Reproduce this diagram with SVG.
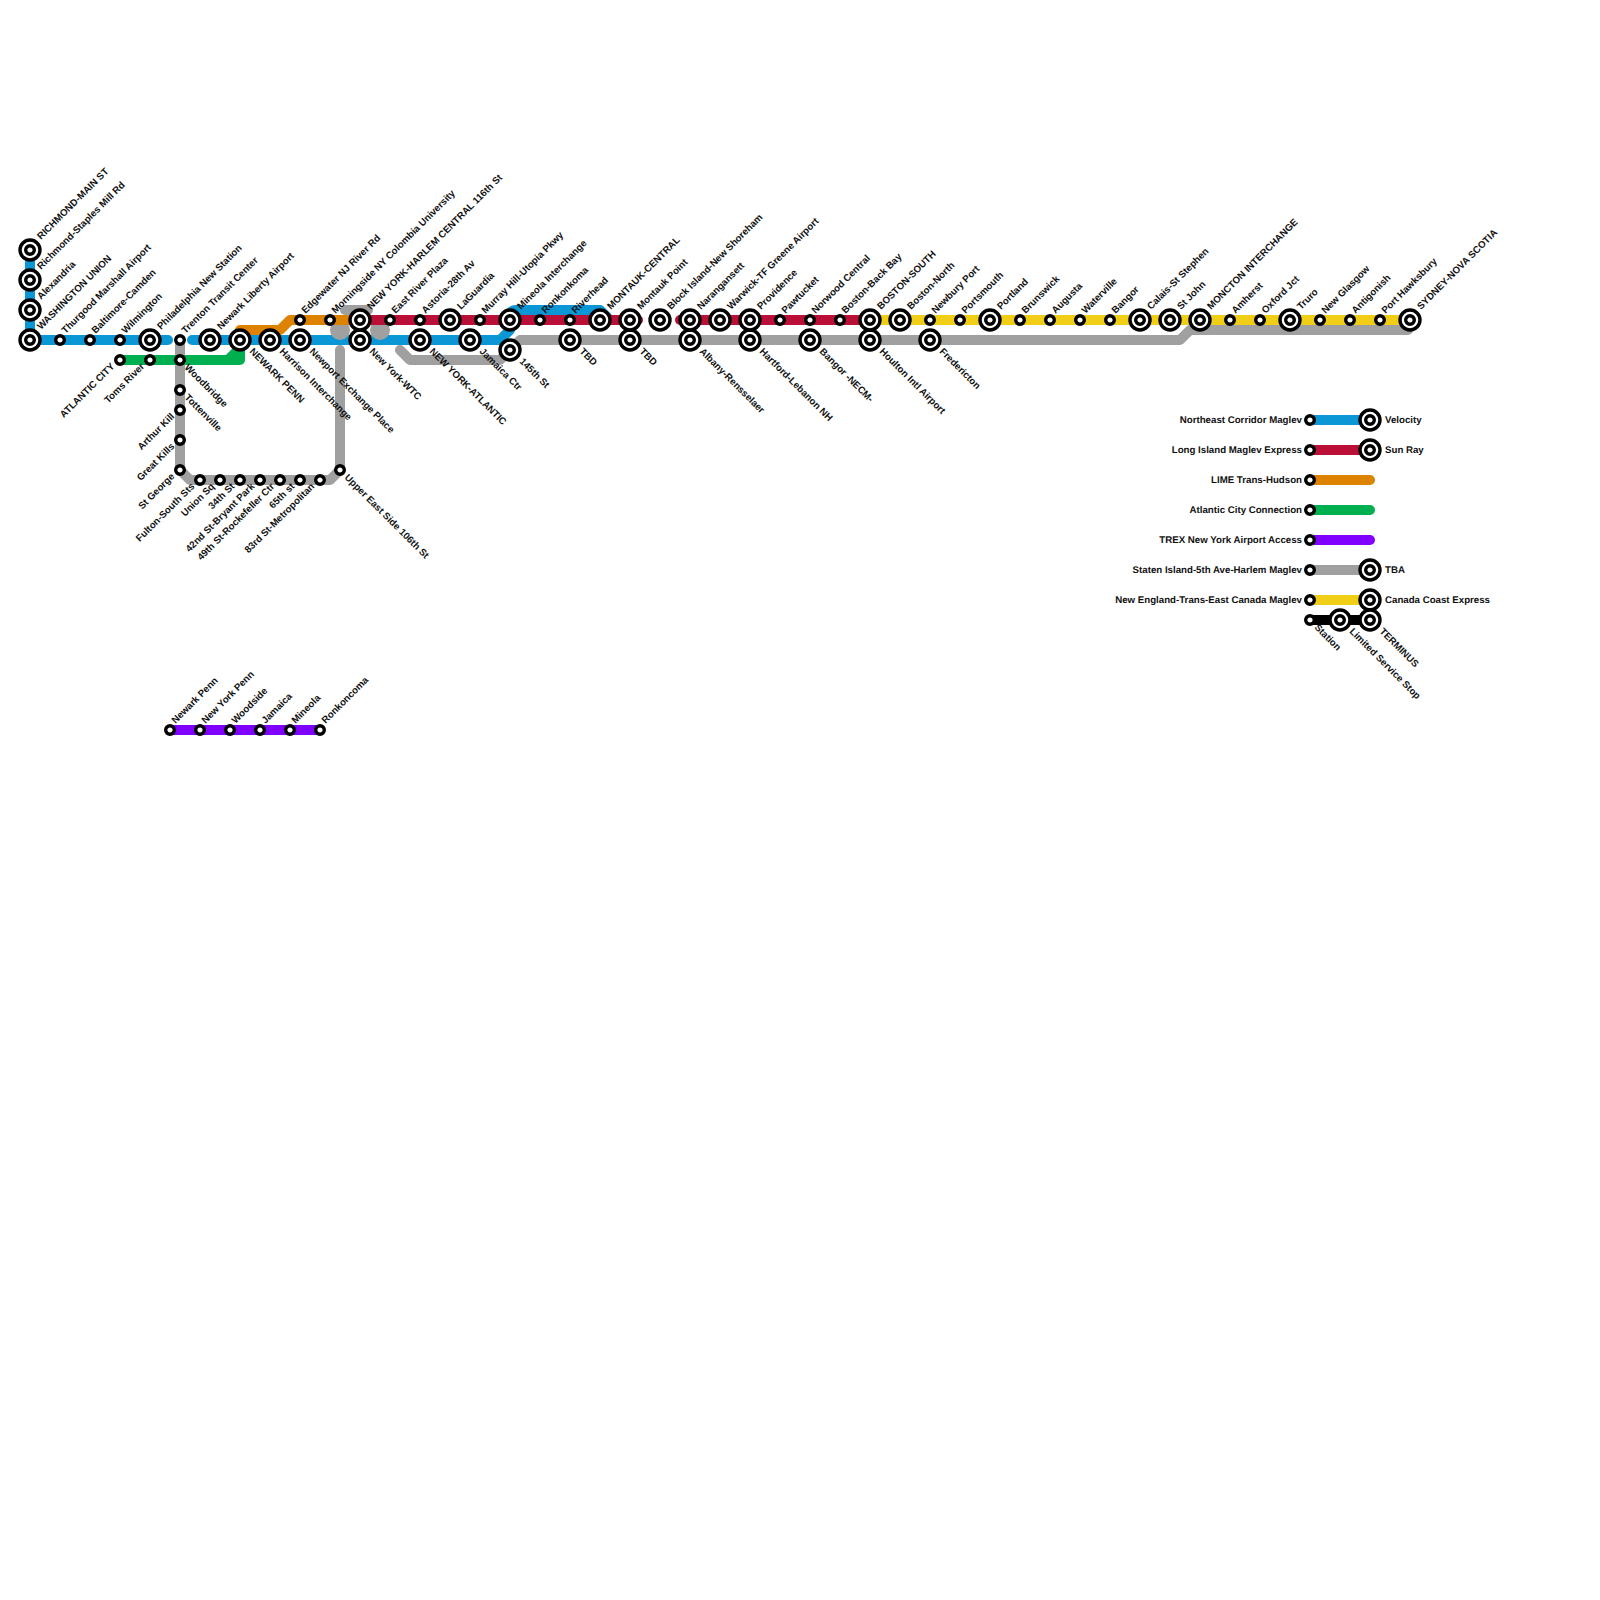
<svg xmlns="http://www.w3.org/2000/svg" width="1600" height="1600" viewBox="0 0 1600 1600">
<style>
text{font-family:"Liberation Sans",Arial,sans-serif;font-size:9.7px;font-weight:bold;fill:#111;text-rendering:geometricPrecision}
.e{text-anchor:end}
.l{fill:none;stroke-width:10;stroke-linecap:round;stroke-linejoin:round}
.blue{stroke:#0b96d6}.red{stroke:#ba1037}.orange{stroke:#dd8300}.green{stroke:#00b050}.purple{stroke:#7f00ff}.gray{stroke:#a0a0a0}.yellow{stroke:#f0ce15}.black{stroke:#000}
.a{fill:#fff;stroke:#000;stroke-width:3.4}
</style>
<defs>
<g id="big"><circle class="a" r="10"/><circle class="a" r="4.3"/></g>
<g id="sm"><circle class="a" r="4.3"/></g>
</defs>
<rect width="1600" height="1600" fill="#fff"/>
<g id="connectors">
<path class="l blue" d="M30,250V340H168M192,340H500L510,330V316Q510,310 516,310H600L610,320"/>
<path class="l gray" d="M180,340V470L190,480H330L340,470V350"/>
<path class="l gray" d="M400,350L410,360H500L520,340H1180L1190,330H1408"/>
<path class="l gray" d="M345,310H368"/>
<circle cx="340" cy="330" r="10" fill="#a0a0a0"/>
<circle cx="380" cy="330" r="10" fill="#a0a0a0"/>
<path class="l orange" d="M240,330H280L290,320H360"/>
<path class="l green" d="M120,360H240V340M228,360L240,348"/>
<path class="l red" d="M360,320H638M680,320H870"/>
<path class="l yellow" d="M870,320H1410"/>
<path class="l purple" d="M170,730H320"/>
<path class="l blue" d="M1310,420H1370"/>
<path class="l red" d="M1310,450H1370"/>
<path class="l orange" d="M1310,480H1370"/>
<path class="l green" d="M1310,510H1370"/>
<path class="l purple" d="M1310,540H1370"/>
<path class="l gray" d="M1310,570H1370"/>
<path class="l yellow" d="M1310,600H1370"/>
<path class="l black" d="M1310,620H1370"/>
</g>
<g id="n1"><use href="#big" x="30" y="250"/><text transform="translate(41 240) rotate(-45)">RICHMOND-MAIN ST</text></g>
<g id="n2"><use href="#big" x="30" y="280"/><text transform="translate(41 270) rotate(-45)">Richmond-Staples Mill Rd</text></g>
<g id="n3"><use href="#big" x="30" y="310"/><text transform="translate(41 300) rotate(-45)">Alexandria</text></g>
<g id="n4"><use href="#big" x="30" y="340"/><text transform="translate(41 330) rotate(-45)">WASHINGTON UNION</text></g>
<g id="n5"><use href="#sm" x="60" y="340"/><text transform="translate(65.5 334) rotate(-45)">Thurgood Marshall Airport</text></g>
<g id="n6"><use href="#sm" x="90" y="340"/><text transform="translate(95.5 334) rotate(-45)">Baltimore-Camden</text></g>
<g id="n7"><use href="#sm" x="120" y="340"/><text transform="translate(125.5 334) rotate(-45)">Wilmington</text></g>
<g id="n8"><use href="#big" x="150" y="340"/><text transform="translate(161 330) rotate(-45)">Philadelphia New Station</text></g>
<g id="n9"><use href="#sm" x="180" y="340"/><text transform="translate(185.5 334) rotate(-45)">Trenton Transit Center</text></g>
<g id="n10"><use href="#big" x="210" y="340"/><text transform="translate(221 330) rotate(-45)">Newark Liberty Airport</text></g>
<g id="n11"><use href="#big" x="240" y="340"/><text transform="translate(249 352) rotate(45)">NEWARK PENN</text></g>
<g id="n12"><use href="#big" x="270" y="340"/><text transform="translate(279 352) rotate(45)">Harrison Interchange</text></g>
<g id="n13"><use href="#big" x="300" y="340"/><text transform="translate(309 352) rotate(45)">Newport Exchange Place</text></g>
<g id="n14"><use href="#big" x="360" y="340"/><text transform="translate(369 352) rotate(45)">New York-WTC</text></g>
<g id="n15"><use href="#big" x="420" y="340"/><text transform="translate(429 352) rotate(45)">NEW YORK-ATLANTIC</text></g>
<g id="n16"><use href="#big" x="470" y="340"/><text transform="translate(479 352) rotate(45)">Jamaica Ctr</text></g>
<g id="n17"><use href="#big" x="510" y="350"/><text transform="translate(519 362) rotate(45)">145th St</text></g>
<g id="n18"><use href="#big" x="570" y="340"/><text transform="translate(579 352) rotate(45)">TBD</text></g>
<g id="n19"><use href="#big" x="630" y="340"/><text transform="translate(639 352) rotate(45)">TBD</text></g>
<g id="n20"><use href="#big" x="690" y="340"/><text transform="translate(699 352) rotate(45)">Albany-Rensselaer</text></g>
<g id="n21"><use href="#big" x="750" y="340"/><text transform="translate(759 352) rotate(45)">Hartford-Lebanon NH</text></g>
<g id="n22"><use href="#big" x="810" y="340"/><text transform="translate(819 352) rotate(45)">Bangor -NECM-</text></g>
<g id="n23"><use href="#big" x="870" y="340"/><text transform="translate(879 352) rotate(45)">Houlton Intl Airport</text></g>
<g id="n24"><use href="#big" x="930" y="340"/><text transform="translate(939 352) rotate(45)">Fredericton</text></g>
<g id="n25"><use href="#sm" x="300" y="320"/><text transform="translate(305.5 314) rotate(-45)">Edgewater NJ River Rd</text></g>
<g id="n26"><use href="#sm" x="330" y="320"/><text transform="translate(335.5 314) rotate(-45)">Morningside NY Colombia University</text></g>
<g id="n27"><use href="#big" x="360" y="320"/><text transform="translate(371 310) rotate(-45)">NEW YORK-HARLEM CENTRAL 116th St</text></g>
<g id="n28"><use href="#sm" x="390" y="320"/><text transform="translate(395.5 314) rotate(-45)">East River Plaza</text></g>
<g id="n29"><use href="#sm" x="420" y="320"/><text transform="translate(425.5 314) rotate(-45)">Astoria-28th Av</text></g>
<g id="n30"><use href="#big" x="450" y="320"/><text transform="translate(461 310) rotate(-45)">LaGuardia</text></g>
<g id="n31"><use href="#sm" x="480" y="320"/><text transform="translate(485.5 314) rotate(-45)">Murray Hill-Utopia Pkwy</text></g>
<g id="n32"><use href="#big" x="510" y="320"/><text transform="translate(521 310) rotate(-45)">Mineola Interchange</text></g>
<g id="n33"><use href="#sm" x="540" y="320"/><text transform="translate(545.5 314) rotate(-45)">Ronkonkoma</text></g>
<g id="n34"><use href="#sm" x="570" y="320"/><text transform="translate(575.5 314) rotate(-45)">Riverhead</text></g>
<g id="n35"><use href="#big" x="600" y="320"/><text transform="translate(611 310) rotate(-45)">MONTAUK-CENTRAL</text></g>
<g id="n36"><use href="#big" x="630" y="320"/><text transform="translate(641 310) rotate(-45)">Montauk Point</text></g>
<g id="n37"><use href="#big" x="660" y="320"/><text transform="translate(671 310) rotate(-45)">Block Island-New Shoreham</text></g>
<g id="n38"><use href="#big" x="690" y="320"/><text transform="translate(701 310) rotate(-45)">Narangansett</text></g>
<g id="n39"><use href="#big" x="720" y="320"/><text transform="translate(731 310) rotate(-45)">Warwick-TF Greene Airport</text></g>
<g id="n40"><use href="#big" x="750" y="320"/><text transform="translate(761 310) rotate(-45)">Providence</text></g>
<g id="n41"><use href="#sm" x="780" y="320"/><text transform="translate(785.5 314) rotate(-45)">Pawtucket</text></g>
<g id="n42"><use href="#sm" x="810" y="320"/><text transform="translate(815.5 314) rotate(-45)">Norwood Central</text></g>
<g id="n43"><use href="#sm" x="840" y="320"/><text transform="translate(845.5 314) rotate(-45)">Boston-Back Bay</text></g>
<g id="n44"><use href="#big" x="870" y="320"/><text transform="translate(881 310) rotate(-45)">BOSTON-SOUTH</text></g>
<g id="n45"><use href="#big" x="900" y="320"/><text transform="translate(911 310) rotate(-45)">Boston-North</text></g>
<g id="n46"><use href="#sm" x="930" y="320"/><text transform="translate(935.5 314) rotate(-45)">Newbury Port</text></g>
<g id="n47"><use href="#sm" x="960" y="320"/><text transform="translate(965.5 314) rotate(-45)">Portsmouth</text></g>
<g id="n48"><use href="#big" x="990" y="320"/><text transform="translate(1001 310) rotate(-45)">Portland</text></g>
<g id="n49"><use href="#sm" x="1020" y="320"/><text transform="translate(1025.5 314) rotate(-45)">Brunswick</text></g>
<g id="n50"><use href="#sm" x="1050" y="320"/><text transform="translate(1055.5 314) rotate(-45)">Augusta</text></g>
<g id="n51"><use href="#sm" x="1080" y="320"/><text transform="translate(1085.5 314) rotate(-45)">Waterville</text></g>
<g id="n52"><use href="#sm" x="1110" y="320"/><text transform="translate(1115.5 314) rotate(-45)">Bangor</text></g>
<g id="n53"><use href="#big" x="1140" y="320"/><text transform="translate(1151 310) rotate(-45)">Calais-St Stephen</text></g>
<g id="n54"><use href="#big" x="1170" y="320"/><text transform="translate(1181 310) rotate(-45)">St John</text></g>
<g id="n55"><use href="#big" x="1200" y="320"/><text transform="translate(1211 310) rotate(-45)">MONCTON INTERCHANGE</text></g>
<g id="n56"><use href="#sm" x="1230" y="320"/><text transform="translate(1235.5 314) rotate(-45)">Amherst</text></g>
<g id="n57"><use href="#sm" x="1260" y="320"/><text transform="translate(1265.5 314) rotate(-45)">Oxford Jct</text></g>
<g id="n58"><use href="#big" x="1290" y="320"/><text transform="translate(1301 310) rotate(-45)">Truro</text></g>
<g id="n59"><use href="#sm" x="1320" y="320"/><text transform="translate(1325.5 314) rotate(-45)">New Glasgow</text></g>
<g id="n60"><use href="#sm" x="1350" y="320"/><text transform="translate(1355.5 314) rotate(-45)">Antigonish</text></g>
<g id="n61"><use href="#sm" x="1380" y="320"/><text transform="translate(1385.5 314) rotate(-45)">Port Hawksbury</text></g>
<g id="n62"><use href="#big" x="1410" y="320"/><text transform="translate(1421 310) rotate(-45)">SYDNEY-NOVA SCOTIA</text></g>
<g id="n63"><use href="#sm" x="120" y="360"/><text class="e" transform="translate(115 367) rotate(-45)">ATLANTIC CITY</text></g>
<g id="n64"><use href="#sm" x="150" y="360"/><text class="e" transform="translate(145 367) rotate(-45)">Toms River</text></g>
<g id="n65"><use href="#sm" x="180" y="360"/><text transform="translate(184 368) rotate(45)">Woodbridge</text></g>
<g id="n66"><use href="#sm" x="180" y="390"/><text transform="translate(184 398) rotate(45)">Tottenville</text></g>
<g id="n67"><use href="#sm" x="180" y="410"/><text class="e" transform="translate(175 417) rotate(-45)">Arthur Kill</text></g>
<g id="n68"><use href="#sm" x="180" y="440"/><text class="e" transform="translate(175 447) rotate(-45)">Great Kills</text></g>
<g id="n69"><use href="#sm" x="180" y="470"/><text class="e" transform="translate(175 477) rotate(-45)">St George</text></g>
<g id="n70"><use href="#sm" x="200" y="480"/><text class="e" transform="translate(195 487) rotate(-45)">Fulton-South Sts</text></g>
<g id="n71"><use href="#sm" x="220" y="480"/><text class="e" transform="translate(215 487) rotate(-45)">Union Sq</text></g>
<g id="n72"><use href="#sm" x="240" y="480"/><text class="e" transform="translate(235 487) rotate(-45)">34th St</text></g>
<g id="n73"><use href="#sm" x="260" y="480"/><text class="e" transform="translate(255 487) rotate(-45)">42nd St-Bryant Park</text></g>
<g id="n74"><use href="#sm" x="280" y="480"/><text class="e" transform="translate(275 487) rotate(-45)">49th St-Rockefeller Ctr</text></g>
<g id="n75"><use href="#sm" x="300" y="480"/><text class="e" transform="translate(295 487) rotate(-45)">65th st</text></g>
<g id="n76"><use href="#sm" x="320" y="480"/><text class="e" transform="translate(315 487) rotate(-45)">83rd St-Metropolitan</text></g>
<g id="n77"><use href="#sm" x="340" y="470"/><text transform="translate(344 478) rotate(45)">Upper East Side 106th St</text></g>
<g id="n78"><use href="#sm" x="170" y="730"/><text transform="translate(175.5 724) rotate(-45)">Newark Penn</text></g>
<g id="n79"><use href="#sm" x="200" y="730"/><text transform="translate(205.5 724) rotate(-45)">New York Penn</text></g>
<g id="n80"><use href="#sm" x="230" y="730"/><text transform="translate(235.5 724) rotate(-45)">Woodside</text></g>
<g id="n81"><use href="#sm" x="260" y="730"/><text transform="translate(265.5 724) rotate(-45)">Jamaica</text></g>
<g id="n82"><use href="#sm" x="290" y="730"/><text transform="translate(295.5 724) rotate(-45)">Mineola</text></g>
<g id="n83"><use href="#sm" x="320" y="730"/><text transform="translate(325.5 724) rotate(-45)">Ronkoncoma</text></g>
<g id="leg1"><use href="#sm" x="1310" y="420"/><text class="e" x="1302" y="423">Northeast Corridor Maglev</text><use href="#big" x="1370" y="420"/><text x="1385" y="423">Velocity</text></g>
<g id="leg2"><use href="#sm" x="1310" y="450"/><text class="e" x="1302" y="453">Long Island Maglev Express</text><use href="#big" x="1370" y="450"/><text x="1385" y="453">Sun Ray</text></g>
<g id="leg3"><use href="#sm" x="1310" y="480"/><text class="e" x="1302" y="483">LIME Trans-Hudson</text></g>
<g id="leg4"><use href="#sm" x="1310" y="510"/><text class="e" x="1302" y="513">Atlantic City Connection</text></g>
<g id="leg5"><use href="#sm" x="1310" y="540"/><text class="e" x="1302" y="543">TREX New York Airport Access</text></g>
<g id="leg6"><use href="#sm" x="1310" y="570"/><text class="e" x="1302" y="573">Staten Island-5th Ave-Harlem Maglev</text><use href="#big" x="1370" y="570"/><text x="1385" y="573">TBA</text></g>
<g id="leg7"><use href="#sm" x="1310" y="600"/><text class="e" x="1302" y="603">New England-Trans-East Canada Maglev</text><use href="#big" x="1370" y="600"/><text x="1385" y="603">Canada Coast Express</text></g>
<g id="leg8"><use href="#sm" x="1310" y="620"/><text transform="translate(1314 628) rotate(45)">Station</text><use href="#big" x="1340" y="620"/><text transform="translate(1349 632) rotate(45)">Limited Service Stop</text><use href="#big" x="1370" y="620"/><text transform="translate(1379 632) rotate(45)">TERMINUS</text></g>
</svg>
